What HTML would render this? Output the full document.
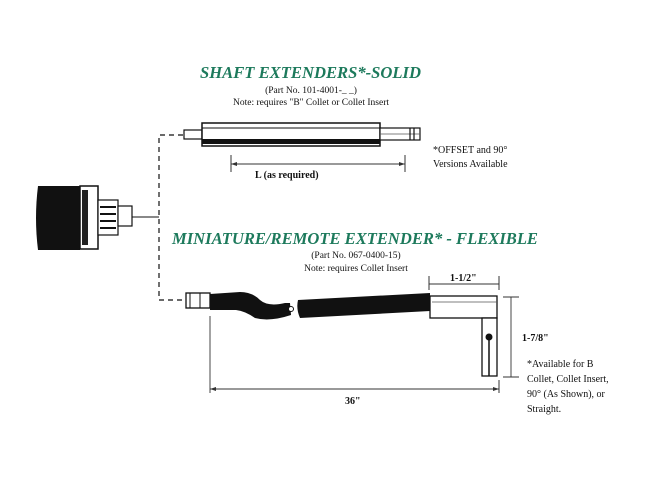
<!DOCTYPE html>
<html><head><style>
html,body{margin:0;padding:0;background:#fff;}
svg{display:block}
.t{font-family:"Liberation Serif",serif;fill:#111}
.g{font-family:"Liberation Serif",serif;font-weight:bold;font-style:italic;fill:#1d7a5c}
</style></head><body>
<svg width="650" height="481" viewBox="0 0 650 481">
<text class="g" x="200" y="78" font-size="17" textLength="221" lengthAdjust="spacingAndGlyphs">SHAFT EXTENDERS*-SOLID</text>
<text class="t" x="311" y="93" font-size="9.5" text-anchor="middle">(Part No. 101-4001-_ _)</text>
<text class="t" x="311" y="105" font-size="9.5" text-anchor="middle">Note: requires "B" Collet or Collet Insert</text>
<!-- solid rod -->
<rect x="184" y="130" width="18" height="9" fill="#fff" stroke="#111" stroke-width="1.2"/>
<rect x="202" y="123" width="178" height="23" fill="#fff" stroke="#111" stroke-width="1.5"/>
<line x1="202" y1="128" x2="380" y2="128" stroke="#111" stroke-width="1"/>
<rect x="202" y="139" width="178" height="5" fill="#111"/>
<rect x="380" y="128" width="40" height="12" fill="#fff" stroke="#111" stroke-width="1.2"/>
<line x1="380" y1="134" x2="420" y2="134" stroke="#555" stroke-width="0.8"/>
<line x1="410" y1="128" x2="410" y2="140" stroke="#111" stroke-width="1.2"/>
<line x1="414" y1="128" x2="414" y2="140" stroke="#111" stroke-width="1.2"/>
<!-- L dim -->
<line x1="231" y1="164" x2="405" y2="164" stroke="#333" stroke-width="0.9"/>
<line x1="231" y1="155" x2="231" y2="172" stroke="#333"/>
<line x1="405" y1="155" x2="405" y2="172" stroke="#333"/>
<polygon points="231,164 237,162 237,166" fill="#333"/>
<polygon points="405,164 399,162 399,166" fill="#333"/>
<text class="t" x="255" y="178" font-size="10" font-weight="bold">L (as required)</text>
<text class="t" x="433" y="153" font-size="10">*OFFSET and 90°</text>
<text class="t" x="433" y="167" font-size="10">Versions Available</text>
<!-- dashed connectors -->
<path d="M183,135 H159 V300 H186" fill="none" stroke="#111" stroke-width="1.2" stroke-dasharray="5,4"/>
<line x1="132" y1="217" x2="159" y2="217" stroke="#111" stroke-width="1"/>
<!-- machine -->
<path d="M38,186 H80 V250 H38 Z" fill="#111"/>
<path d="M38,186 Q34,218 38,250" fill="#111"/>
<rect x="80" y="186" width="18" height="63" fill="#fff" stroke="#111" stroke-width="1.5"/>
<rect x="82" y="190" width="6" height="55" fill="#222"/>
<rect x="98" y="200" width="20" height="35" fill="#fff" stroke="#111" stroke-width="1.2"/>
<line x1="100" y1="207" x2="116" y2="207" stroke="#111" stroke-width="2"/>
<line x1="100" y1="214" x2="116" y2="214" stroke="#111" stroke-width="2"/>
<line x1="100" y1="221" x2="116" y2="221" stroke="#111" stroke-width="2"/>
<line x1="100" y1="228" x2="116" y2="228" stroke="#111" stroke-width="2"/>
<rect x="118" y="206" width="14" height="20" fill="#fff" stroke="#111" stroke-width="1.2"/>
<text class="g" x="172" y="244" font-size="17" textLength="366" lengthAdjust="spacingAndGlyphs">MINIATURE/REMOTE EXTENDER* - FLEXIBLE</text>
<text class="t" x="356" y="258" font-size="9.5" text-anchor="middle">(Part No. 067-0400-15)</text>
<text class="t" x="356" y="271" font-size="9.5" text-anchor="middle">Note: requires Collet Insert</text>
<!-- flexible -->
<rect x="186" y="293" width="24" height="15" fill="#fff" stroke="#111" stroke-width="1.3"/>
<line x1="190" y1="293" x2="190" y2="308" stroke="#111"/>
<line x1="200" y1="293" x2="200" y2="308" stroke="#111"/>
<path d="M210,294 L240,292 Q252,292 260,300 Q268,307 285,303 L290,303 L291,315 Q270,322 255,318 Q245,311 236,310 L210,310 Z" fill="#111"/>
<circle cx="291" cy="309" r="2.5" fill="#fff" stroke="#111"/>
<path d="M298,300 L430,293 L430,311 L300,318 Q296,309 298,300 Z" fill="#111"/>
<rect x="430" y="296" width="67" height="22" fill="#fff" stroke="#111" stroke-width="1.3"/>
<line x1="432" y1="302" x2="497" y2="302" stroke="#555" stroke-width="0.8"/>
<rect x="482" y="318" width="15" height="58" fill="#fff" stroke="#111" stroke-width="1.3"/>
<line x1="489" y1="337" x2="489" y2="376" stroke="#111" stroke-width="1.5"/>
<circle cx="489" cy="337" r="3.5" fill="#111"/>
<!-- dims -->
<line x1="429" y1="284" x2="499" y2="284" stroke="#333" stroke-width="0.9"/>
<line x1="429" y1="276" x2="429" y2="290" stroke="#333"/>
<line x1="499" y1="276" x2="499" y2="290" stroke="#333"/>
<text class="t" x="450" y="281" font-size="10" font-weight="bold">1-1/2"</text>
<line x1="511" y1="297" x2="511" y2="377" stroke="#333" stroke-width="0.9"/>
<line x1="503" y1="297" x2="519" y2="297" stroke="#333"/>
<line x1="503" y1="377" x2="519" y2="377" stroke="#333"/>
<text class="t" x="522" y="341" font-size="10" font-weight="bold">1-7/8"</text>
<line x1="210" y1="316" x2="210" y2="393" stroke="#333" stroke-width="0.9"/>
<line x1="499" y1="380" x2="499" y2="393" stroke="#333"/>
<line x1="210" y1="389" x2="499" y2="389" stroke="#333" stroke-width="0.9"/>
<polygon points="210,389 216,387 216,391" fill="#333"/>
<polygon points="499,389 493,387 493,391" fill="#333"/>
<text class="t" x="345" y="404" font-size="10" font-weight="bold">36"</text>
<text class="t" x="527" y="367" font-size="10">*Available for B</text>
<text class="t" x="527" y="382" font-size="10">Collet, Collet Insert,</text>
<text class="t" x="527" y="397" font-size="10">90° (As Shown), or</text>
<text class="t" x="527" y="412" font-size="10">Straight.</text>
</svg>
</body></html>
